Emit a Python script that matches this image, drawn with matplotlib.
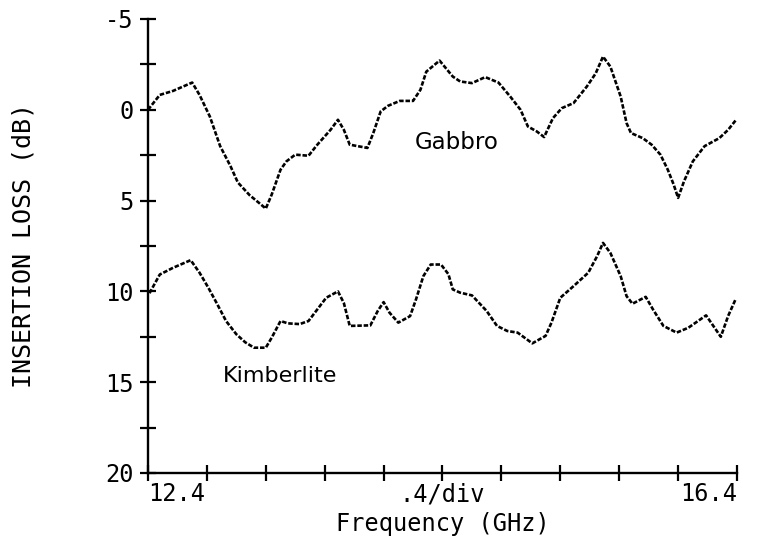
import matplotlib
matplotlib.use("Agg")
import matplotlib.pyplot as plt
import numpy as np

# ---- data ----
gabbro_freq = [12.40, 12.48, 12.57, 12.70, 12.75, 12.82, 12.89, 12.96, 13.01, 13.09,
               13.15, 13.20, 13.24, 13.30, 13.34, 13.40, 13.49, 13.55, 13.64, 13.69,
               13.73, 13.77, 13.89, 13.93, 13.98, 14.03, 14.11, 14.20, 14.25, 14.29,
               14.38, 14.47, 14.52, 14.60, 14.69, 14.78, 14.86, 14.93, 14.98, 15.04,
               15.09, 15.15, 15.21, 15.29, 15.38, 15.44, 15.49, 15.54, 15.61, 15.65,
               15.68, 15.76, 15.82, 15.88, 15.93, 15.97, 16.00, 16.04, 16.10, 16.18,
               16.28, 16.34, 16.39]
gabbro_loss = [0.0, -0.82, -1.04, -1.5, -0.82, 0.37, 2.0, 3.1, 4.0, 4.7,
               5.1, 5.44, 4.67, 3.3, 2.84, 2.47, 2.53, 1.92, 1.1, 0.55,
               1.1, 1.92, 2.1, 1.28, 0.09, -0.22, -0.49, -0.49, -1.1, -2.1,
               -2.71, -1.83, -1.56, -1.47, -1.8, -1.5, -0.73, 0.0, 0.92, 1.19,
               1.5, 0.46, -0.09, -0.37, -1.28, -2.0, -2.93, -2.38, -0.73, 0.73,
               1.28, 1.56, 1.92, 2.47, 3.3, 4.12, 4.85, 3.94, 2.84, 2.0,
               1.56, 1.1, 0.59]

kimber_freq = [12.41, 12.48, 12.57, 12.69, 12.75, 12.81, 12.87, 12.93, 13.00, 13.06,
               13.12, 13.20, 13.24, 13.30, 13.35, 13.43, 13.49, 13.55, 13.61, 13.69,
               13.73, 13.77, 13.91, 13.96, 14.00, 14.04, 14.10, 14.18, 14.22, 14.27,
               14.32, 14.39, 14.44, 14.47, 14.52, 14.60, 14.70, 14.77, 14.84, 14.91,
               15.01, 15.10, 15.14, 15.20, 15.29, 15.39, 15.45, 15.49, 15.54, 15.61,
               15.65, 15.69, 15.78, 15.83, 15.90, 15.99, 16.07, 16.19, 16.29, 16.34,
               16.39]
kimber_loss = [10.1, 9.07, 8.7, 8.28, 8.97, 9.8, 10.7, 11.63, 12.36, 12.8,
               13.1, 13.1, 12.55, 11.63, 11.76, 11.8, 11.63, 10.99, 10.35, 10.0,
               10.64, 11.9, 11.87, 11.08, 10.59, 11.17, 11.72, 11.36, 10.44, 9.16,
               8.52, 8.52, 9.05, 9.89, 10.07, 10.22, 11.08, 11.9, 12.18, 12.27,
               12.86, 12.45, 11.72, 10.35, 9.71, 8.97, 8.06, 7.33, 7.88, 9.16,
               10.26, 10.68, 10.3, 11.0, 11.9, 12.27, 12.0, 11.32, 12.5, 11.35,
               10.44]

y_ticks_major = [-5, 0, 5, 10, 15, 20]
y_tick_labels = ["-5", "0", "5", "10", "15", "20"]
x_ticks_labeled = [12.4, 14.4, 16.4]
x_tick_labels = ["12.4", ".4/div", "16.4"]
x_minor_step = 0.4
y_minor_step = 2.5

# ---- figure ----
fig = plt.figure(figsize=(7.62, 5.43), dpi=100)
ax = fig.add_axes([148/762, 1 - 473/543, (737-148)/762, (473-19)/543])

mono = "DejaVu Sans Mono"
dash = (0, (1.7, 0.7))
ax.plot(gabbro_freq, gabbro_loss, color="black", lw=1.9, linestyle=dash)
ax.plot(kimber_freq, kimber_loss, color="black", lw=1.9, linestyle=dash)

ax.set_xlim(12.4, 16.4)
ax.set_ylim(20, -5)

for s in ["top", "right"]:
    ax.spines[s].set_visible(False)
for s in ["left", "bottom"]:
    ax.spines[s].set_linewidth(1.7)

ax.set_yticks(y_ticks_major)
ax.set_yticklabels(y_tick_labels, fontfamily=mono, fontsize=17)
ax.set_yticks(np.arange(-5, 20.01, y_minor_step), minor=True)
ax.set_xticks(x_ticks_labeled)
ax.set_xticklabels(x_tick_labels, fontfamily=mono, fontsize=17)
ax.set_xticks(np.arange(12.4, 16.41, x_minor_step), minor=True)
lbls = ax.get_xticklabels()
lbls[0].set_ha("left")
lbls[2].set_ha("right")

ax.tick_params(which="both", direction="inout", length=11, width=1.6, color="black")
ax.tick_params(axis="y", pad=5)
ax.tick_params(axis="x", pad=1)

ax.set_xlabel("Frequency (GHz)", fontfamily=mono, fontsize=17, labelpad=4)
ax.set_ylabel("INSERTION LOSS (dB)", fontfamily=mono, fontsize=18, labelpad=50)

ax.text(14.21, 1.81, "Gabbro", fontsize=16.5, ha="left", va="center", fontfamily="DejaVu Sans")
ax.text(12.91, 14.65, "Kimberlite", fontsize=16, ha="left", va="center", fontfamily="DejaVu Sans")

fig.savefig("out.png", dpi=100)
